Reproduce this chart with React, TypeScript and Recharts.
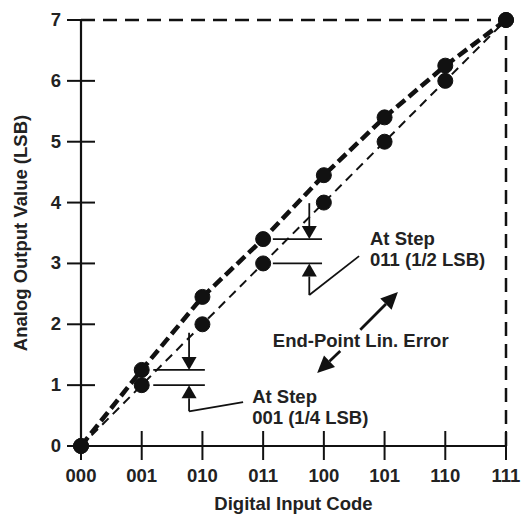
import {
  LineChart,
  Line,
  XAxis,
  YAxis,
  ReferenceLine,
  ReferenceDot,
} from 'recharts';

const CODES = ['000', '001', '010', '011', '100', '101', '110', '111'];
const IDEAL = [0, 1, 2, 3, 4, 5, 6, 7];
const ACTUAL = [0, 1.25, 2.45, 3.4, 4.45, 5.4, 6.25, 7];
const Y_TICKS = [0, 1, 2, 3, 4, 5, 6, 7];

// annotation geometry in data units (code index, LSB)
const STEP1 = { x: 1.78, top: 1.86, bottom: 0.57, left: 1.19, right: 2.04, hi: 1.25, lo: 1.0, leadX: 2.67, leadY: 0.72 };
const STEP3 = { x: 3.76, top: 3.99, bottom: 2.48, left: 3.16, right: 3.97, hi: 3.4, lo: 3.0, leadX: 4.58, leadY: 3.12 };
const ERR_UP = [{ x: 4.6, y: 1.91 }, { x: 5.22, y: 2.53 }];
const ERR_DOWN = [{ x: 4.27, y: 1.56 }, { x: 3.89, y: 1.2 }];

const INK = '#111';
const FONT = '"Liberation Sans", Arial, sans-serif';

const data = CODES.map((code, i) => ({ x: i, code, ideal: IDEAL[i], actual: ACTUAL[i] }));

const arrow = (head: number, width: number, sw: number) => (props: any) => {
  const { x1, y1, x2, y2 } = props;
  const a = Math.atan2(y2 - y1, x2 - x1);
  const c = Math.cos(a);
  const s = Math.sin(a);
  const bx = x2 - head * c;
  const by = y2 - head * s;
  const px = (-s * width) / 2;
  const py = (c * width) / 2;
  return (
    <g>
      <line x1={x1} y1={y1} x2={bx} y2={by} stroke={INK} strokeWidth={sw} />
      <polygon points={`${x2},${y2} ${bx + px},${by + py} ${bx - px},${by - py}`} fill={INK} />
    </g>
  );
};

const textBlock = (lines: string[]) => (props: any) => (
  <text x={props.cx} y={props.cy} fill="#222" fontFamily={FONT} fontWeight="bold" fontSize={18.5}>
    {lines.map((l, i) => (
      <tspan key={i} x={props.cx} dy={i === 0 ? 0 : 21}>
        {l}
      </tspan>
    ))}
  </text>
);

const XTick = (props: any) => {
  const { x, y, payload } = props;
  return (
    <g>
      <line x1={x} x2={x} y1={y - 15} y2={y + 14} stroke={INK} strokeWidth={2} />
      <text x={x} y={y + 36} textAnchor="middle" fill="#222" fontFamily={FONT} fontWeight="bold" fontSize={18.5}>
        {CODES[payload.value]}
      </text>
    </g>
  );
};

const YTick = (props: any) => {
  const { x, y, payload } = props;
  return (
    <g>
      <line x1={x - 14} x2={x + 14} y1={y} y2={y} stroke={INK} strokeWidth={2} />
      <text x={x - 20} y={y + 6} textAnchor="end" fill="#222" fontFamily={FONT} fontWeight="bold" fontSize={18.5}>
        {payload.value}
      </text>
    </g>
  );
};

export default function App() {
  const stepLines = (s: typeof STEP1, key: string) => [
    <ReferenceLine key={key + 'a'} segment={[{ x: s.x, y: s.top }, { x: s.x, y: s.hi }]} shape={arrow(13, 15, 1.8)} />,
    <ReferenceLine key={key + 'b'} segment={[{ x: s.x, y: s.bottom }, { x: s.x, y: s.lo }]} shape={arrow(13, 15, 1.8)} />,
    <ReferenceLine key={key + 'c'} segment={[{ x: s.left, y: s.hi }, { x: s.right, y: s.hi }]} stroke={INK} strokeWidth={1.8} />,
    <ReferenceLine key={key + 'd'} segment={[{ x: s.left, y: s.lo }, { x: s.right, y: s.lo }]} stroke={INK} strokeWidth={1.8} />,
    <ReferenceLine key={key + 'e'} segment={[{ x: s.x, y: s.bottom }, { x: s.leadX, y: s.leadY }]} stroke={INK} strokeWidth={1.8} />,
  ];

  return (
    <div style={{ position: 'absolute', left: 0, top: 0, background: '#fff' }}>
      <LineChart width={523} height={515} data={data} margin={{ top: 20, right: 17, bottom: 0, left: 0 }}>
        <XAxis
          dataKey="x"
          type="number"
          domain={[0, 7]}
          ticks={[0, 1, 2, 3, 4, 5, 6, 7]}
          height={69}
          tickSize={0}
          tickMargin={0}
          tickLine={false}
          tick={<XTick />}
          axisLine={{ stroke: INK, strokeWidth: 2.2 }}
          label={{ value: 'Digital Input Code', position: 'insideBottom', offset: 5, fill: '#222', fontFamily: FONT, fontWeight: 'bold', fontSize: 18.5 }}
        />
        <YAxis
          type="number"
          domain={[0, 7]}
          ticks={Y_TICKS}
          width={81}
          tickSize={0}
          tickMargin={0}
          tickLine={false}
          tick={<YTick />}
          axisLine={{ stroke: INK, strokeWidth: 2.2 }}
          label={{ value: 'Analog Output Value (LSB)', angle: -90, position: 'insideLeft', offset: 20, fill: '#222', fontFamily: FONT, fontWeight: 'bold', fontSize: 18.5, style: { textAnchor: 'middle' } }}
        />
        <ReferenceLine segment={[{ x: 0, y: 7 }, { x: 7, y: 7 }]} stroke={INK} strokeWidth={2.5} strokeDasharray="14 8" />
        <ReferenceLine segment={[{ x: 7, y: 0 }, { x: 7, y: 7 }]} stroke={INK} strokeWidth={2.5} strokeDasharray="14 8" />

        {stepLines(STEP1, 's1')}
        {stepLines(STEP3, 's3')}
        <ReferenceLine segment={ERR_UP} shape={arrow(17, 16, 2.8)} />
        <ReferenceLine segment={ERR_DOWN} shape={arrow(17, 16, 2.8)} />

        <ReferenceDot x={2.82} y={0.71} r={0} shape={textBlock(['At Step', '001 (1/4 LSB)'])} />
        <ReferenceDot x={4.76} y={3.3} r={0} shape={textBlock(['At Step', '011 (1/2 LSB)'])} />
        <ReferenceDot x={3.16} y={1.63} r={0} shape={textBlock(['End-Point Lin. Error'])} />

        <Line
          type="linear"
          dataKey="ideal"
          stroke={INK}
          strokeWidth={2}
          strokeDasharray="9 6"
          dot={{ r: 7.5, fill: INK, stroke: INK, strokeWidth: 1, strokeDasharray: '' }}
          isAnimationActive={false}
        />
        <Line
          type="linear"
          dataKey="actual"
          stroke={INK}
          strokeWidth={4.5}
          strokeDasharray="11 5"
          dot={{ r: 7.5, fill: INK, stroke: INK, strokeWidth: 1, strokeDasharray: '' }}
          isAnimationActive={false}
        />
      </LineChart>
    </div>
  );
}
